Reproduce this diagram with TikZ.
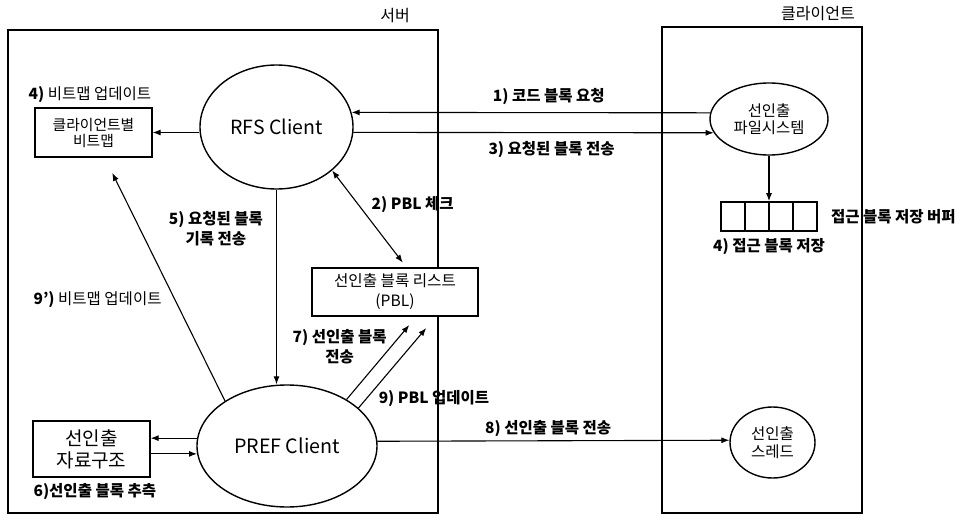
\documentclass[tikz,border=0pt]{standalone}
\usepackage{fontspec}
\setmainfont{Noto Sans CJK KR}
\usepackage{tikz}
\usetikzlibrary{positioning, arrows.meta, fit, shapes.geometric}

\begin{document}
\begin{tikzpicture}[
    x=1pt, y=-1pt,
    zone/.style={rectangle, draw=black, line width=1.4pt, inner sep=0pt},
    proc/.style={ellipse, draw=black, line width=1.4pt, inner sep=0pt, align=center},
    block/.style={rectangle, draw=black, fill=white, line width=1.2pt, inner sep=0pt, align=center},
    cell/.style={rectangle, draw=black, line width=1.2pt, minimum width=24pt, minimum height=29pt, inner sep=0pt},
    arrow/.style={-{Latex[length=8pt, width=6pt]}, line width=1.1pt},
    biarrow/.style={{Latex[length=8pt, width=6pt]}-{Latex[length=8pt, width=6pt]}, line width=1.1pt},
    note/.style={font=\fontsize{15.5}{20}\selectfont\bfseries, inner sep=1pt, align=center},
    head/.style={font=\fontsize{16}{19}\selectfont, inner sep=1pt}
]
\useasboundingbox (0,0) rectangle (956,516);

% Frames
\node[zone, minimum width=430pt, minimum height=483pt] (server) at (223,271.5) {};
\node[zone, minimum width=200pt, minimum height=486pt] (client) at (762,270) {};
\node[head] (servername) at (395,16) {서버};
\node[head] (clientname) at (818,14) {클라이언트};

% Server nodes
\node[proc, minimum width=153pt, minimum height=124pt, font=\fontsize{19.5}{24}\selectfont] (rfs) at (276.5,127) {RFS Client};
\node[proc, minimum width=180pt, minimum height=122pt, font=\fontsize{19.7}{24}\selectfont] (pref) at (287,446) {PREF Client};
\node[block, minimum width=117pt, minimum height=49pt, font=\fontsize{14.8}{16}\selectfont] (bitmap) at (93.5,132.5) {클라이언트별\\비트맵};
\node[block, minimum width=117pt, minimum height=56pt, font=\fontsize{19}{22}\selectfont] (prefdata) at (91.5,449) {선인출\\자료구조};
\node[block, minimum width=166pt, minimum height=48pt, font=\fontsize{15.6}{20}\selectfont] (pbl) at (395,292) {선인출 블록 리스트\\(PBL)};

% Client nodes
\node[proc, minimum width=118pt, minimum height=72pt, font=\fontsize{15.4}{17}\selectfont] (prefs) at (769,119) {선인출\\파일시스템};
\node[proc, minimum width=85pt, minimum height=71pt, font=\fontsize{15.5}{18}\selectfont] (thread) at (772.5,442.5) {선인출\\스레드};
\foreach \i in {1,...,4}
    \node[cell] (c\i) at ({709+24*\i},216.5) {};
\node[fit=(c1)(c4), inner sep=0pt] (buffer) {};

% Labels
\node[note, above right=4pt and -7pt of bitmap.north west] (bitmapnote) {4) \mdseries 비트맵 업데이트};
\node[note, below right=5pt and 0pt of prefdata.south west] (guessnote) {6)선인출 블록 추측};
\node[note, right=12pt of buffer] (buffername) {접근 블록 저장 버퍼};
\node[note, below=5pt of buffer] (storenote) {4) 접근 블록 저장};

% Arrows
\draw[arrow] (prefs.174) -- node[pos=.45, above=6pt, note] {1) 코드 블록 요청} (rfs.11);
\draw[arrow] (rfs.-4) -- node[pos=.55, below=7pt, note] {3) 요청된 블록 전송} (prefs.194);
\draw[arrow] (rfs.west |- bitmap.east) -- (bitmap.east);
\draw[biarrow, shorten >=6pt] (rfs.-38) -- node[pos=.35, right=12pt, note] {2) PBL 체크} (pbl.65);
\draw[arrow] (rfs.south) -- node[pos=.2, left=12pt, note] {5) 요청된 블록\\기록 전송} (rfs.south |- pref.north);
\draw[arrow, shorten >=17pt] (pref.144) -- node[pos=.415, left=12pt, note] {9’) \mdseries 비트맵 업데이트} (bitmap.-66);
\draw[arrow, shorten >=11pt] (pref.38) -- node[pos=.64, left=3pt, note] {7) 선인출 블록\\전송} (pbl.-49);
\draw[arrow, shorten >=15pt] (pref.28) -- node[pos=.1, right=11pt, note] {9) PBL 업데이트} (pbl.-31);
\draw[arrow] (pref.175) -- (pref.175 -| prefdata.east);
\draw[arrow] (pref.185 -| prefdata.east) -- (pref.185);
\draw[arrow] (pref.3) -- node[pos=.485, above=3pt, note] {8) 선인출 블록 전송} (thread.177);
\draw[arrow] (prefs.south) -- (buffer.north);
\end{tikzpicture}
\end{document}
